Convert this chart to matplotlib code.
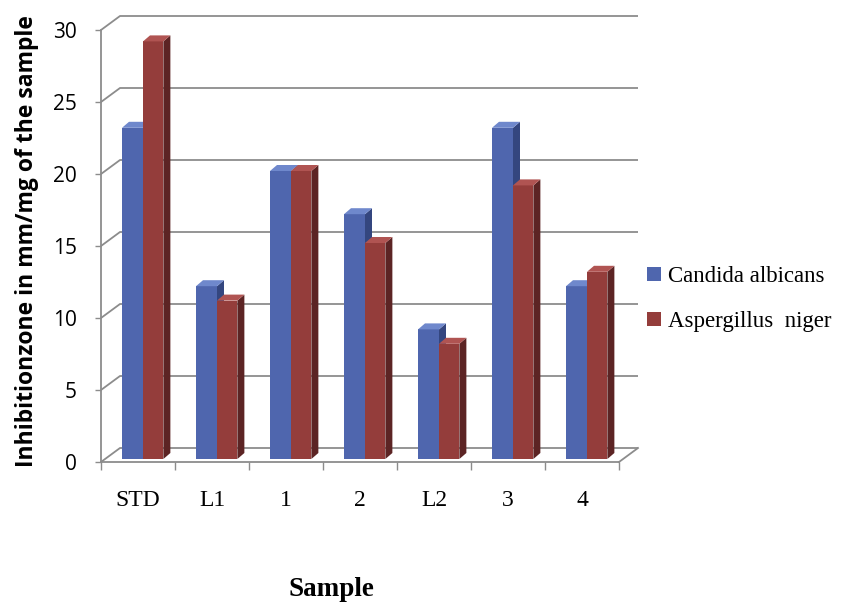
import matplotlib
matplotlib.use("Agg")
import matplotlib.pyplot as plt
from matplotlib.patches import Polygon, Patch

# --- data ---
samples = ["STD", "L1", "1", "2", "L2", "3", "4"]
candida = [23, 12, 20, 17, 9, 23, 12]
aspergillus = [29, 11, 20, 15, 8, 19, 13]
series_names = ["Candida albicans", "Aspergillus  niger"]
yticks = [0, 5, 10, 15, 20, 25, 30]

# --- colours ---
BLUE = ("#4f66ae", "#6f88cc", "#34467f")     # front, top, side
RED = ("#943d3b", "#b05452", "#5c2424")
GRID = "#8c8c8c"

# --- geometry (category units on x, value units on y) ---
PX_CAT, PX_VAL = 74.0, 14.4
BX, BY = 19 / PX_CAT, 14 / PX_VAL          # back wall offset
DX, DY = 7 / PX_CAT, 6 / PX_VAL            # bar depth
LIFT = 3 / PX_VAL                          # bars sit slightly behind the front plane

fig = plt.figure(figsize=(8.46, 6.04), dpi=100)
ax = fig.add_axes([101 / 846, (604 - 470) / 604, (645 - 101) / 846, 460 / 604])
ax.set_xlim(0, (645 - 101) / PX_CAT)
ax.set_ylim(-(470 - 462) / PX_VAL, (462 - 10) / PX_VAL)

n = len(samples)

# back wall gridlines + floor
for v in yticks:
    ax.plot([0, BX, n + BX], [v, v + BY, v + BY], color=GRID, lw=1.3, zorder=1,
            clip_on=False, solid_capstyle="butt")
ax.plot([n, n + BX], [0, BY], color=GRID, lw=1.3, zorder=1)


def bar3d(x0, w, h, cols):
    front, top, side = cols
    b, h = LIFT, h + LIFT
    ax.add_patch(Polygon([(x0, b), (x0 + w, b), (x0 + w, h), (x0, h)],
                         closed=True, fc=front, ec="none", zorder=3))
    ax.add_patch(Polygon([(x0 + w, b), (x0 + w + DX, b + DY),
                          (x0 + w + DX, h + DY), (x0 + w, h)],
                         closed=True, fc=side, ec="none", zorder=3))
    ax.add_patch(Polygon([(x0, h), (x0 + w, h), (x0 + w + DX, h + DY),
                          (x0 + DX, h + DY)],
                         closed=True, fc=top, ec="none", zorder=3))


bw = 21 / PX_CAT
for i in range(n):
    left = i + 21 / PX_CAT
    bar3d(left, bw, candida[i], BLUE)
    bar3d(left + bw, bw * 0.97, aspergillus[i], RED)

# axes / ticks
for s in ["top", "right"]:
    ax.spines[s].set_visible(False)
ax.spines["left"].set_bounds(0, 30)
ax.spines["bottom"].set_bounds(0, n)
ax.spines["bottom"].set_position(("data", 0))
for s in ["left", "bottom"]:
    ax.spines[s].set_color(GRID)
    ax.spines[s].set_linewidth(1.3)
    ax.spines[s].set_zorder(2)

ax.set_yticks(yticks)
ax.set_yticklabels([str(t) for t in yticks], fontfamily="Open Sans", fontsize=15)
ax.tick_params(axis="y", direction="out", length=4.5, width=1, color=GRID, pad=13)

ax.set_xticks(range(n + 1))
ax.set_xticklabels([])
ax.set_xticks([i + 0.5 for i in range(n)], minor=True)
ax.set_xticklabels(samples, minor=True, fontfamily="Liberation Serif", fontsize=17)
ax.tick_params(axis="x", which="major", direction="out", length=6, width=1, color=GRID)
ax.tick_params(axis="x", which="minor", length=0, pad=20)

fig.text(27 / 846, 1 - 241 / 604, "Inhibitionzone in mm/mg of the sample",
         rotation=90, ha="center", va="center", fontfamily="Open Sans",
         fontweight="bold", fontsize=16.5)
fig.text(331 / 846, 1 - 590 / 604, "Sample", ha="center", va="center",
         fontfamily="Liberation Serif", fontweight="bold", fontsize=19.5)

handles = [Patch(fc=BLUE[0], ec="none"), Patch(fc=RED[0], ec="none")]
fig.legend(handles, series_names, loc="center left",
           bbox_to_anchor=(636 / 846, 1 - 299 / 604), frameon=False,
           prop={"family": "Liberation Serif", "size": 16.5},
           handlelength=0.6, handleheight=0.6, handletextpad=0.3,
           labelspacing=1.05, borderpad=0.3, borderaxespad=0.2)

fig.savefig("out.png", dpi=100)
